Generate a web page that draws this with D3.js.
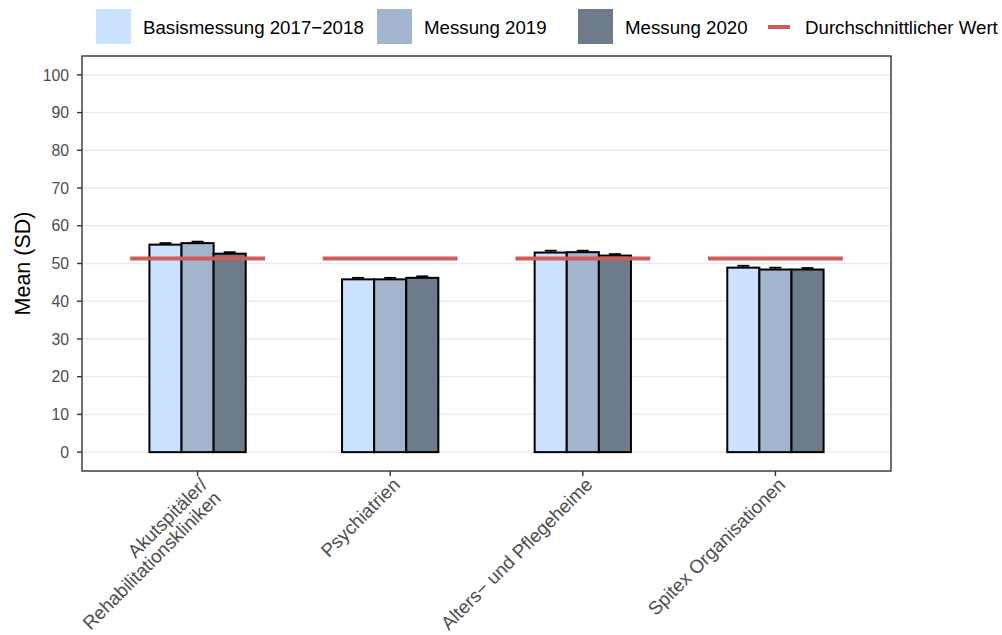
<!DOCTYPE html>
<html><head><meta charset="utf-8">
<script src="https://cdn.jsdelivr.net/npm/d3@7"></script>
<style>body{margin:0;background:#fff}svg{display:block;font-family:"Liberation Sans",Arial,sans-serif}</style>
</head><body>
<svg id="c" width="1002" height="635"></svg>
<script>
const categories = ["Akutspitäler/\nRehabilitationskliniken", "Psychiatrien", "Alters\u2212 und Pflegeheime", "Spitex Organisationen"];
const seriesNames = ["Basismessung 2017\u22122018", "Messung 2019", "Messung 2020"];
const seriesColors = ["#CAE1FF", "#A2B5CD", "#6E7B8B"];
const basis = [55.0, 45.8, 52.9, 48.9];
const m2019 = [55.4, 45.8, 53.0, 48.4];
const m2020 = [52.6, 46.2, 52.1, 48.4];
const errBasis = [0.4, 0.4, 0.5, 0.5];
const err2019 = [0.4, 0.4, 0.4, 0.5];
const err2020 = [0.4, 0.4, 0.4, 0.4];
const avgValue = [51.3, 51.3, 51.3, 51.3];
const avgLabel = "Durchschnittlicher Wert";
const yTicks = [0,10,20,30,40,50,60,70,80,90,100];
const yTitle = "Mean (SD)";

const values = [basis, m2019, m2020];
const errs = [errBasis, err2019, err2020];

const svg = d3.select("#c");
const L = 82, R = 891, T = 56, B = 471;
const x = d3.scalePoint().domain(d3.range(categories.length)).range([L, R]).padding(0.6);
const bw = x.step();
const cx = i => x(i);
const y = d3.scaleLinear().domain([-5, 105]).range([B, T]);

const g = svg.append("g");
g.selectAll("line.grid").data(yTicks).join("line")
  .attr("x1", L).attr("x2", R).attr("y1", d => y(d)).attr("y2", d => y(d))
  .attr("stroke", "#ebebeb").attr("stroke-width", 1.4);

const dodge = 0.5 * bw, barW = dodge / 3;
const xs = d3.scaleBand().domain(d3.range(3)).range([-dodge/2, dodge/2]);

values.forEach((vals, s) => {
  vals.forEach((v, i) => {
    const xc = cx(i) + xs(s) + barW/2;
    const e = errs[s][i];
    const cw = 6;
    g.append("line").attr("x1", xc).attr("x2", xc).attr("y1", y(v - e)).attr("y2", y(v + e)).attr("stroke", "#000").attr("stroke-width", 1.4);
    g.append("line").attr("x1", xc - cw).attr("x2", xc + cw).attr("y1", y(v + e)).attr("y2", y(v + e)).attr("stroke", "#000").attr("stroke-width", 1.8);
  });
});
values.forEach((vals, s) => {
  g.selectAll(null).data(vals).join("rect")
    .attr("x", (d, i) => cx(i) + xs(s))
    .attr("width", barW)
    .attr("y", d => y(d))
    .attr("height", d => y(0) - y(d))
    .attr("fill", seriesColors[s])
    .attr("stroke", "#000").attr("stroke-width", 2);
});
g.selectAll("line.avg").data(avgValue).join("line")
  .attr("x1", (d, i) => cx(i) - 0.35 * bw).attr("x2", (d, i) => cx(i) + 0.35 * bw)
  .attr("y1", d => y(d)).attr("y2", d => y(d))
  .attr("stroke", "#CD5C5C").attr("stroke-width", 4);

svg.append("rect").attr("x", L).attr("y", T).attr("width", R - L).attr("height", B - T)
  .attr("fill", "none").attr("stroke", "#333").attr("stroke-width", 1.4);

const ya = svg.append("g");
yTicks.forEach(t => {
  ya.append("line").attr("x1", L - 5).attr("x2", L).attr("y1", y(t)).attr("y2", y(t)).attr("stroke", "#333").attr("stroke-width", 1.4);
  ya.append("text").attr("x", L - 13).attr("y", y(t)).attr("dy", "0.36em").attr("text-anchor", "end")
    .attr("fill", "#4d4d4d").style("font-size", "15.8px").text(t);
});
svg.append("text").attr("transform", `translate(30,${(T + B) / 2}) rotate(-90)`)
  .attr("text-anchor", "middle").style("font-size", "21.5px").attr("fill", "#000").text(yTitle);

categories.forEach((c, i) => {
  svg.append("line").attr("x1", cx(i)).attr("x2", cx(i)).attr("y1", B).attr("y2", B + 5).attr("stroke", "#333").attr("stroke-width", 1.4);
  const lines = c.split("\n");
  const t = svg.append("text").attr("transform", `translate(${cx(i) + 1},${B + 5}) rotate(-45)`)
    .attr("text-anchor", "end").attr("fill", "#4d4d4d").style("font-size", "18.8px");
  lines.forEach((ln, k) => {
    t.append("tspan").attr("x", 0).attr("y", 14 + k * 19).text(ln);
  });
});

const leg = svg.append("g");
const keyX = [96, 377, 578];
seriesNames.forEach((n, s) => {
  leg.append("rect").attr("x", keyX[s]).attr("y", 9).attr("width", 35).attr("height", 35).attr("fill", seriesColors[s]);
  leg.append("text").attr("x", keyX[s] + 47).attr("y", 27).attr("dy", "0.36em").style("font-size", "18.7px").attr("fill", "#000").text(n);
});
leg.append("line").attr("x1", 768).attr("x2", 790).attr("y1", 27).attr("y2", 27).attr("stroke", "#CD5C5C").attr("stroke-width", 4);
leg.append("text").attr("x", 805).attr("y", 27).attr("dy", "0.36em").style("font-size", "18.7px").attr("fill", "#000").text(avgLabel);
</script>
</body></html>
